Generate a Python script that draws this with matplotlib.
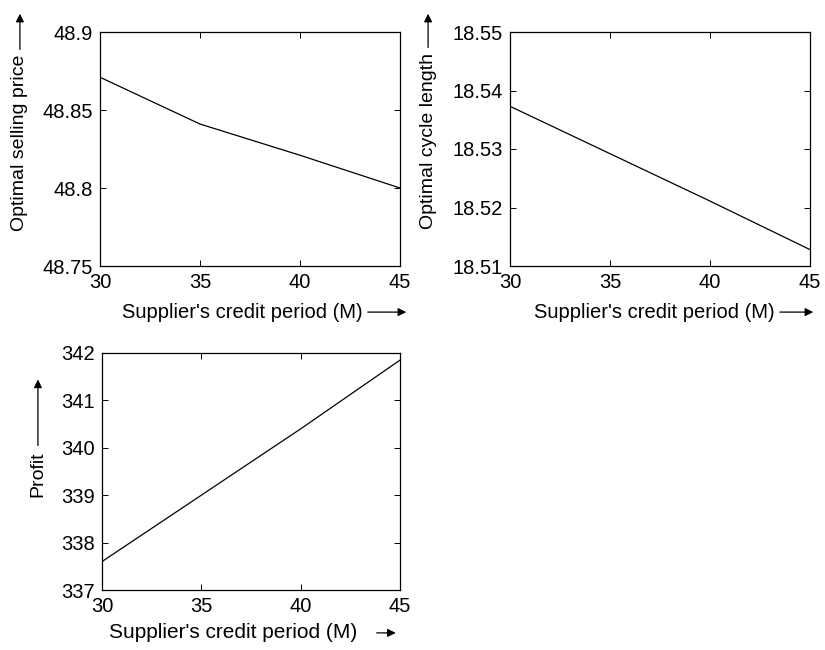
import matplotlib.pyplot as plt

plt.rcParams['font.family'] = ['Liberation Sans', 'DejaVu Sans']

# Данные
M = [30, 35, 40, 45]
price = [48.871, 48.841, 48.821, 48.800]
cycle = [18.5373, 18.5292, 18.5211, 18.5128]
profit = [337.6, 339.0, 340.4, 341.85]

xlab = "Supplier's credit period (M)"
arrow = dict(arrowstyle='-|>', color='black', lw=0.9, mutation_scale=12)

fig = plt.figure(figsize=(8.25, 6.5), dpi=100)
W, H = 825, 650


def add_axes(left, top, right, bottom):
    return fig.add_axes([left / W, 1 - bottom / H, (right - left) / W, (bottom - top) / H])


def style(ax, ylim, yticks, yticklabels):
    ax.set_xlim(30, 45)
    ax.set_xticks(M)
    ax.set_ylim(*ylim)
    ax.set_yticks(yticks)
    ax.set_yticklabels(yticklabels)
    ax.tick_params(direction='in', top=True, right=True, labelsize=14.5, length=4, width=0.7, pad=5)
    for s in ax.spines.values():
        s.set_linewidth(0.9)


# Верхний левый
ax1 = add_axes(100, 32, 400, 266)
ax1.plot(M, price, color='black', lw=0.9)
style(ax1, (48.75, 48.9), [48.75, 48.8, 48.85, 48.9], ['48.75', '48.8', '48.85', '48.9'])
ax1.annotate('Optimal selling price', xy=(-0.267, 1.09), xytext=(-0.267, 0.525),
             xycoords='axes fraction', textcoords='axes fraction', rotation=90,
             ha='center', va='center', fontsize=14, arrowprops=arrow)
ax1.annotate(xlab, xy=(1.03, -0.197), xytext=(0.473, -0.197),
             xycoords='axes fraction', textcoords='axes fraction',
             ha='center', va='center', fontsize=14.5, arrowprops=arrow)

# Верхний правый
ax2 = add_axes(510, 32, 810, 266)
ax2.plot(M, cycle, color='black', lw=0.9)
style(ax2, (18.51, 18.55), [18.51, 18.52, 18.53, 18.54, 18.55],
      ['18.51', '18.52', '18.53', '18.54', '18.55'])
ax2.annotate('Optimal cycle length', xy=(-0.273, 1.09), xytext=(-0.273, 0.534),
             xycoords='axes fraction', textcoords='axes fraction', rotation=90,
             ha='center', va='center', fontsize=14, arrowprops=arrow)
ax2.annotate(xlab, xy=(1.02, -0.197), xytext=(0.48, -0.197),
             xycoords='axes fraction', textcoords='axes fraction',
             ha='center', va='center', fontsize=14.5, arrowprops=arrow)

# Нижний
ax3 = add_axes(102, 353, 400, 590)
ax3.plot(M, profit, color='black', lw=0.9)
style(ax3, (337, 342), [337, 338, 339, 340, 341, 342],
      ['337', '338', '339', '340', '341', '342'])
ax3.annotate('Profit', xy=(-0.215, 0.90), xytext=(-0.215, 0.49),
             xycoords='axes fraction', textcoords='axes fraction', rotation=90,
             ha='center', va='center', fontsize=14, arrowprops=arrow)
ax3.annotate(xlab, xy=(0.995, -0.181), xytext=(0.44, -0.181),
             xycoords='axes fraction', textcoords='axes fraction',
             ha='center', va='center', fontsize=15,
             arrowprops=dict(arrow, shrinkA=12))

fig.savefig('out.png', dpi=100)
